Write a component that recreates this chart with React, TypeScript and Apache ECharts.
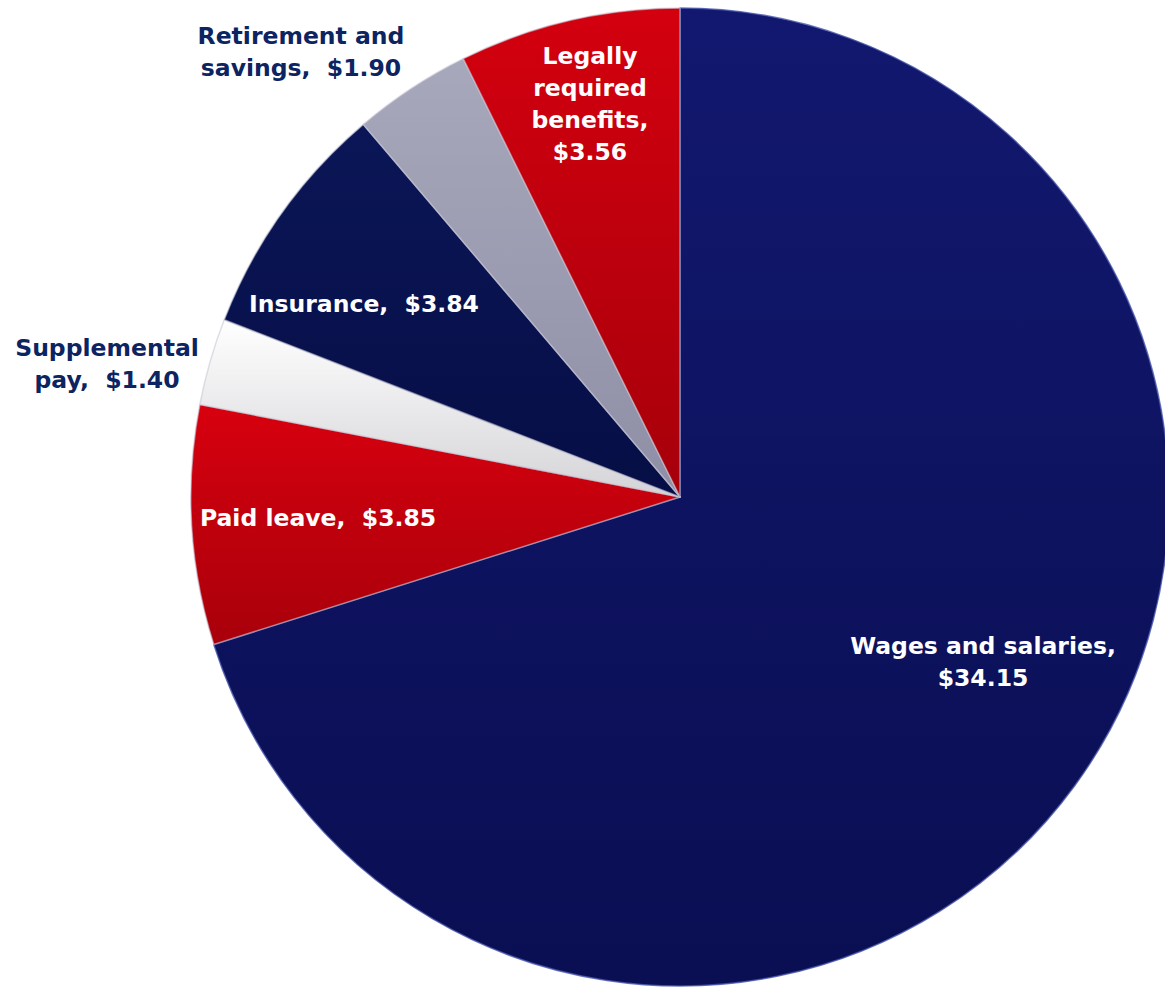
import React, { useEffect, useRef } from "react";
import * as echarts from "echarts";

const categories = [
  "Wages and salaries",
  "Paid leave",
  "Supplemental pay",
  "Insurance",
  "Retirement and savings",
  "Legally required benefits",
];
const values = [34.15, 3.85, 1.4, 3.84, 1.9, 3.56];
const labelTexts = [
  "Wages and salaries,\n$34.15",
  "Paid leave,  $3.85",
  "Supplemental\npay,  $1.40",
  "Insurance,  $3.84",
  "Retirement and\nsavings,  $1.90",
  "Legally\nrequired\nbenefits,\n$3.56",
];

// styling (not data)
const sliceColors: [string, string][] = [
  ["#12186f", "#0a0e52"],
  ["#d8000f", "#a8000b"],
  ["#ffffff", "#d4d4d8"],
  ["#0b1657", "#060e45"],
  ["#a8a8bc", "#8e8ea6"],
  ["#d4000f", "#a6000b"],
];
const labelColors = ["#ffffff", "#ffffff", "#0c2461", "#ffffff", "#0c2461", "#ffffff"];
const labelPos: [number, number][] = [
  [983, 662],
  [318, 518],
  [107, 364],
  [364, 304],
  [301, 52],
  [590, 104],
];

export default function App() {
  const ref = useRef<HTMLDivElement>(null);
  useEffect(() => {
    if (!ref.current) return;
    const chart = echarts.init(ref.current, undefined, { renderer: "svg" });
    chart.setOption({
      animation: false,
      series: [
        {
          type: "pie",
          center: [680, 497],
          radius: 489,
          startAngle: 90,
          clockwise: true,
          avoidLabelOverlap: false,
          labelLine: { show: false },
          data: categories.map((name, i) => ({
            name,
            value: values[i],
            itemStyle: {
              color: new echarts.graphic.LinearGradient(0, 0, 0, 1, [
                { offset: 0, color: sliceColors[i][0] },
                { offset: 1, color: sliceColors[i][1] },
              ]),
              borderColor: i === 0 ? "rgba(70,85,170,0.8)" : "rgba(200,200,215,0.6)",
              borderWidth: 1.5,
            },
            label: {
              show: true,
              position: "inside",
              formatter: labelTexts[i],
              color: labelColors[i],
              fontFamily: "DejaVu Sans",
              fontWeight: "bold",
              fontSize: 23.5,
              lineHeight: 32,
              align: "center",
            },
          })),
          labelLayout: (params: any) => ({
            x: labelPos[params.dataIndex][0],
            y: labelPos[params.dataIndex][1],
            align: "center",
            verticalAlign: "middle",
          }),
          emphasis: { disabled: true },
        },
      ],
    });
    return () => chart.dispose();
  }, []);
  return (
    <div
      ref={ref}
      style={{ position: "absolute", left: 0, top: 0, width: 1165, height: 988, background: "#ffffff" }}
    />
  );
}
